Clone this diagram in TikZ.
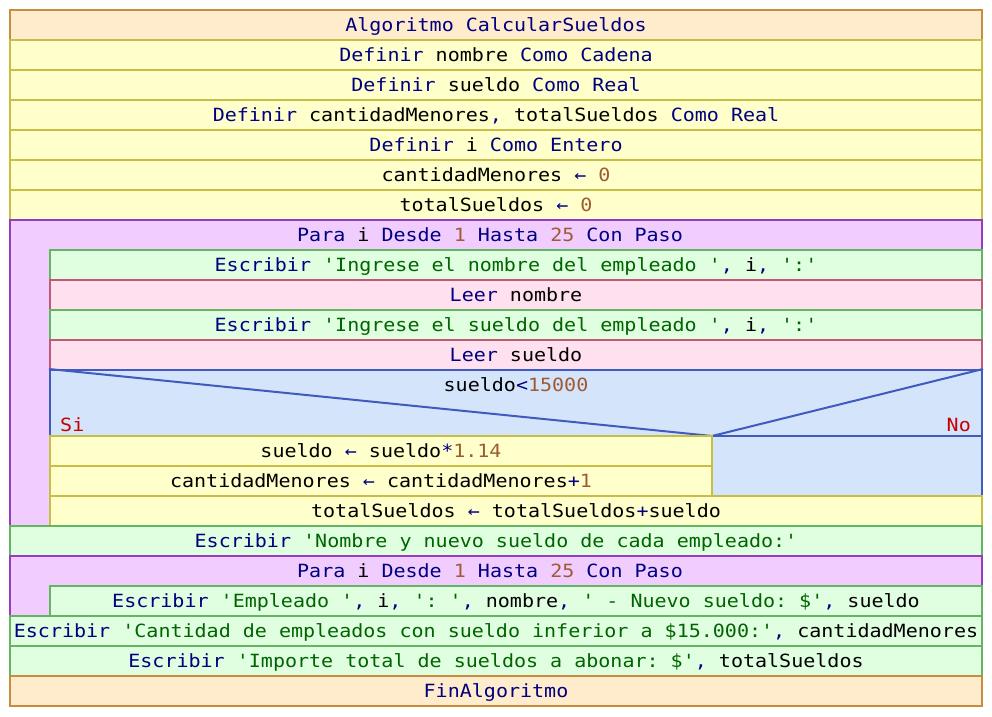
\documentclass[tikz,border=0pt]{standalone}
\usepackage{fontspec}
\setmonofont[FakeStretch=1.1]{DejaVu Sans Mono}
\definecolor{kwc}{RGB}{0,0,128}
\definecolor{strc}{RGB}{0,100,0}
\definecolor{numc}{RGB}{160,90,50}
\definecolor{sinoc}{RGB}{200,0,0}
\definecolor{algfill}{RGB}{255,236,204}
\definecolor{algline}{RGB}{200,140,60}
\definecolor{deffill}{RGB}{255,255,204}
\definecolor{defline}{RGB}{200,190,70}
\definecolor{parafill}{RGB}{240,204,255}
\definecolor{paraline}{RGB}{150,60,190}
\definecolor{outfill}{RGB}{224,255,224}
\definecolor{outline}{RGB}{100,180,100}
\definecolor{infill}{RGB}{255,224,238}
\definecolor{inline}{RGB}{190,90,120}
\definecolor{iffill}{RGB}{212,228,250}
\definecolor{ifline}{RGB}{64,90,190}
\newcommand\kw[1]{\textcolor{kwc}{#1}}
\newcommand\st[1]{\textcolor{strc}{#1}}
\newcommand\nm[1]{\textcolor{numc}{#1}}
\tikzset{
  txt/.style={inner sep=0pt, text height=16pt, text depth=4pt, font=\ttfamily\fontsize{18.2}{20}\selectfont},
  cell/.style={txt, minimum height=30pt, line width=2pt},
  algbox/.style={cell, draw=algline, fill=algfill},
  defbox/.style={cell, draw=defline, fill=deffill},
  parabox/.style={cell, draw=paraline, fill=parafill},
  outbox/.style={cell, draw=outline, fill=outfill},
  inbox/.style={cell, draw=inline, fill=infill},
  ifbox/.style={cell, draw=ifline, fill=iffill},
  ifedge/.style={draw=ifline, line width=2pt},
  sino/.style={txt, text=sinoc},
}
\begin{document}
\begin{tikzpicture}[x=1pt,y=-1pt]
\useasboundingbox[fill=white] (0,0) rectangle (992,716);
% header and definitions
\node[algbox, minimum width=972pt] (alg) at (496,25) {\kw{Algoritmo CalcularSueldos}};
\node[defbox, minimum width=972pt] (d1) at (496,55) {\kw{Definir} nombre \kw{Como Cadena}};
\node[defbox, minimum width=972pt] (d2) at (496,85) {\kw{Definir} sueldo \kw{Como Real}};
\node[defbox, minimum width=972pt] (d3) at (496,115) {\kw{Definir} cantidadMenores\kw{,} totalSueldos \kw{Como Real}};
\node[defbox, minimum width=972pt] (d4) at (496,145) {\kw{Definir} i \kw{Como Entero}};
\node[defbox, minimum width=972pt] (a1) at (496,175) {cantidadMenores \kw{←} \nm{0}};
\node[defbox, minimum width=972pt] (a2) at (496,205) {totalSueldos \kw{←} \nm{0}};
% first loop
\node[parabox, minimum width=972pt, minimum height=306pt] (loopA) at (496,373) {};
\node[txt] (loopAh) at (490,235) {\kw{Para} i \kw{Desde} \nm{1} \kw{Hasta} \nm{25} \kw{Con Paso}};
\node[outbox, minimum width=932pt] (w1) at (516,265) {\kw{Escribir} \st{'Ingrese el nombre del empleado '}\kw{,} i\kw{,} \st{':'}};
\node[inbox, minimum width=932pt] (r1) at (516,295) {\kw{Leer} nombre};
\node[outbox, minimum width=932pt] (w2) at (516,325) {\kw{Escribir} \st{'Ingrese el sueldo del empleado '}\kw{,} i\kw{,} \st{':'}};
\node[inbox, minimum width=932pt] (r2) at (516,355) {\kw{Leer} sueldo};
% decision
\node[ifbox, minimum width=932pt, minimum height=126pt] (cond) at (516,433) {};
\coordinate (apex) at (712,436);
\coordinate (noend) at (982,436);
\draw[ifedge] (cond.north west) -- (apex) -- (cond.north east);
\draw[ifedge] (apex) -- (noend);
\node[txt] (condt) at (516,385) {sueldo\kw{<}\nm{15000}};
\node[sino, anchor=base west] (si) at (60,431) {Si};
\node[sino, anchor=base east] (no) at (971,431) {No};
\node[defbox, minimum width=662pt] (y1) at (381,451) {sueldo \kw{←} sueldo\kw{*}\nm{1.14}};
\node[defbox, minimum width=662pt] (y2) at (381,481) {cantidadMenores \kw{←} cantidadMenores\kw{+}\nm{1}};
\node[defbox, minimum width=932pt] (tot) at (516,511) {totalSueldos \kw{←} totalSueldos\kw{+}sueldo};
% after loop
\node[outbox, minimum width=972pt] (w3) at (496,541) {\kw{Escribir} \st{'Nombre y nuevo sueldo de cada empleado:'}};
% second loop
\node[parabox, minimum width=972pt, minimum height=60pt] (loopB) at (496,586) {};
\node[txt] (loopBh) at (490,571) {\kw{Para} i \kw{Desde} \nm{1} \kw{Hasta} \nm{25} \kw{Con Paso}};
\node[outbox, minimum width=932pt] (w4) at (516,601) {\kw{Escribir} \st{'Empleado '}\kw{,} i\kw{,} \st{': '}\kw{,} nombre\kw{,} \st{' - Nuevo sueldo: \$'}\kw{,} sueldo};
% final outputs
\node[outbox, minimum width=972pt] (w5) at (496,631) {\kw{Escribir} \st{'Cantidad de empleados con sueldo inferior a \$15.000:'}\kw{,} cantidadMenores};
\node[outbox, minimum width=972pt] (w6) at (496,661) {\kw{Escribir} \st{'Importe total de sueldos a abonar: \$'}\kw{,} totalSueldos};
\node[algbox, minimum width=972pt] (fin) at (496,691) {\kw{FinAlgoritmo}};
\end{tikzpicture}
\end{document}
